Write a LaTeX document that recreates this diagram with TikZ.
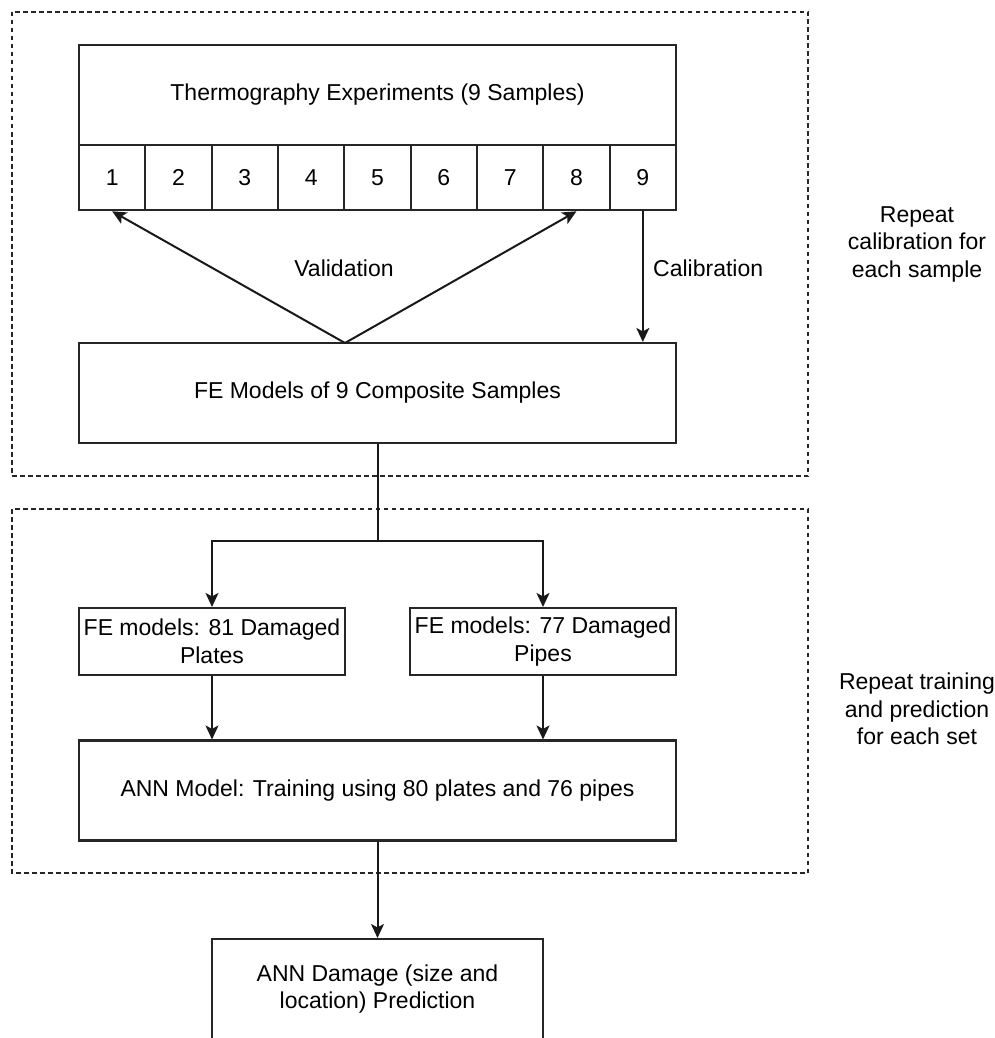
\documentclass[tikz,border=0pt]{standalone}
\usepackage{fontspec}
\setmainfont{Liberation Sans}
\usetikzlibrary{arrows.meta,calc}
\begin{document}
\begin{tikzpicture}[x=1pt,y=-1pt,
  every node/.style={font=\fontsize{23}{27.5}\selectfont, text=black},
  box/.style={draw=black!85, line width=2.1pt, rectangle, inner sep=0pt, align=center},
  grp/.style={draw=black!85, line width=2.2pt, dash pattern=on 4.5pt off 3.5pt},
  conn/.style={draw=black!90, line width=2pt},
  arr/.style={conn, -{Stealth[length=14pt,width=13pt,inset=3.5pt]}},
  note/.style={align=center, inner sep=0pt}]
\useasboundingbox (0,0) rectangle (995,1038);
\fill[white] (0,0) rectangle (995,1038);
% group frames
\draw[grp] (12,12) rectangle (808,476);
\draw[grp] (12,509) rectangle (808,873);
% top box
\node[box, minimum width=597pt, minimum height=100pt] (thermo) at (377.5,95) {Thermography Experiments (9 Samples)};
\foreach \i in {1,...,9}{
  \node[box, minimum width=66.33pt, minimum height=65.5pt] (c\i) at ({79+66.333*(\i-0.5)},177.5) {\i};
}
\node[box, minimum width=597pt, minimum height=100pt] (fe) at (377.5,393) {FE Models of 9 Composite Samples};
\node[box, minimum width=266pt, minimum height=67pt] (plates) at (212,641.5) {FE models: 81 Damaged\\Plates};
\node[box, minimum width=266pt, minimum height=67pt] (pipes) at (543,641.5) {FE models: 77 Damaged\\Pipes};
\node[box, minimum width=597pt, minimum height=100pt] (ann) at (377.5,790.5) {ANN Model: Training using 80 plates and 76 pipes};
\node[box, minimum width=331pt, minimum height=100pt] (dmg) at (377.5,989) {ANN Damage (size and\\location) Prediction};
% notes
\node[note] (n1) at (917,244) {Repeat\\calibration for\\each sample};
\node[note] (n2) at (917,709) {Repeat training\\and prediction\\for each set};
% connectors
\coordinate (apex) at (345,343);
\draw[arr] (apex) -- (c1.south);
\draw[arr] (apex) -- (c8.south);
\node[inner sep=0pt] (val) at (344,268) {Validation};
\draw[arr] (c9.south) -- (c9.south |- fe.north);
\node[inner sep=0pt, anchor=west] (cal) at (653,268) {Calibration};
\coordinate (split) at (fe.south |- 0,541);
\draw[conn] (fe.south) -- (split);
\draw[arr] (split) -| (plates.north);
\draw[arr] (split) -| (pipes.north);
\draw[arr] (plates.south) -- (plates.south |- ann.north);
\draw[arr] (pipes.south) -- (pipes.south |- ann.north);
\draw[arr] (ann.south) -- (dmg.north);
\end{tikzpicture}
\end{document}
